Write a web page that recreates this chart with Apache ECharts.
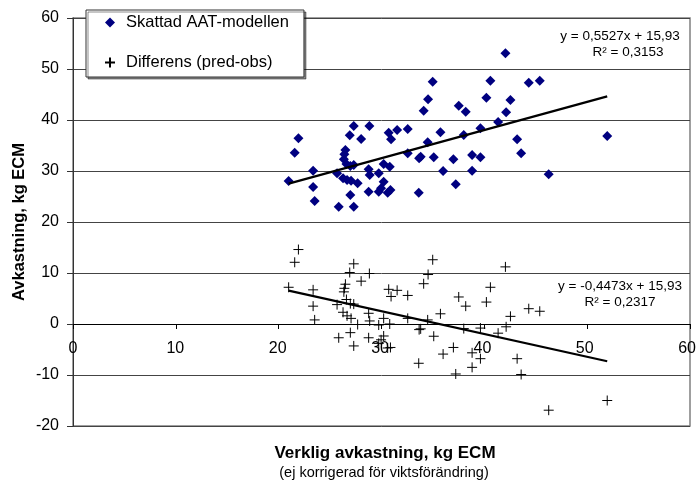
<!DOCTYPE html>
<html>
<head>
<meta charset="utf-8">
<script src="https://cdn.jsdelivr.net/npm/echarts@6/dist/echarts.min.js"></script>
<style>
html,body{margin:0;padding:0;background:#fff;}
#chart{width:699px;height:484px;}
</style>
</head>
<body>
<div id="chart"></div>
<script>
// Observed yield (x) for each animal, kg ECM
const obsX = [20.97,21.92,21.56,23.35,23.35,23.50,25.84,27.30,26.97,26.49,26.39,26.34,26.59,26.97,27.30,25.68,26.26,26.65,27.04,27.68,26.91,27.30,28.02,28.82,28.75,28.85,28.75,29.73,30.21,30.80,30.21,29.96,29.73,30.60,30.87,30.70,30.93,31.52,32.55,32.55,33.62,33.66,33.81,34.10,34.53,34.98,34.49,35.08,35.73,35.99,36.99,37.22,37.51,38.19,38.00,38.81,38.81,39.62,39.62,40.20,40.59,41.34,42.12,42.05,42.54,43.19,43.58,44.32,45.39,46.26,51.95];
// Predicted (AAT model)
const predY = [28.04,36.41,33.59,30.06,26.86,24.12,23.0,23.0,25.29,34.12,33.27,32.29,31.37,30.98,31.18,29.55,28.57,28.24,28.1,27.59,37.0,38.82,36.27,38.82,30.33,29.22,25.94,29.55,31.37,30.84,27.9,26.6,25.94,25.75,26.27,37.51,36.22,38.04,38.24,33.47,25.75,32.49,32.8,41.82,44.06,47.51,35.63,32.69,37.59,30.0,32.29,27.39,42.8,41.63,37.06,33.14,30.06,38.37,32.69,44.37,47.71,39.61,41.51,53.08,43.92,36.22,33.47,47.31,47.71,29.35,36.86];
// Difference (pred-obs)
const diffY = [7.2,14.6,12.1,6.7,3.5,0.8,-2.7,-4.3,-1.7,7.8,7.0,6.3,4.8,4.0,3.9,3.8,2.3,1.6,1.1,-0.1,10.1,11.8,8.4,9.9,2.1,0.6,-2.7,-0.2,1.1,0.0,-2.35,-3.1,-3.8,-4.7,-4.6,6.8,5.4,6.6,5.6,1.1,-7.7,-1.1,-0.95,7.9,9.7,12.6,0.8,-2.4,2.0,-5.9,-4.6,-9.8,5.3,3.5,-0.9,-5.65,-8.5,-0.8,-6.8,4.3,7.2,-1.8,-0.55,11.2,1.5,-6.8,-9.9,3.0,2.5,-16.9,-15.0];

const seriesNames = ['Skattad AAT-modellen', 'Differens (pred-obs)'];
const trendPred = {slope: 0.5527, intercept: 15.93};
const trendDiff = {slope: -0.4473, intercept: 15.93};
const eqPred = ['y = 0,5527x + 15,93', 'R\u00B2 = 0,3153'];
const eqDiff = ['y = -0,4473x + 15,93', 'R\u00B2 = 0,2317'];
const xTicks = {min: 0, max: 60, interval: 10};
const yTicks = {min: -20, max: 60, interval: 10};
const yTitle = 'Avkastning, kg ECM';
const xTitle = 'Verklig avkastning, kg ECM';
const xSubtitle = '(ej korrigerad f\u00F6r viktsf\u00F6r\u00E4ndring)';

const FONT = '"Liberation Sans", Arial, sans-serif';
const xmin = Math.min.apply(null, obsX), xmax = Math.max.apply(null, obsX);
const lineFor = t => [[xmin, t.slope * xmin + t.intercept], [xmax, t.slope * xmax + t.intercept]];

// plot box
const G = {left: 73, right: 9, top: 18, bottom: 58};
const plotH = 484 - G.top - G.bottom;
// height of the part of the plot above y = 0 (for the label row that sits on the zero line)
const zeroFromTop = plotH * (yTicks.max - 0) / (yTicks.max - yTicks.min);

const chart = echarts.init(document.getElementById('chart'), null, {renderer: 'canvas'});
chart.setOption({
  animation: false,
  backgroundColor: '#fff',
  grid: [
    {left: G.left, right: G.right, top: G.top, bottom: G.bottom, show: true, borderColor: '#808080', borderWidth: 1.5, backgroundColor: 'transparent'},
    {left: G.left, right: G.right, top: G.top, height: zeroFromTop, show: false}
  ],
  xAxis: [
    {
      type: 'value', gridIndex: 0, min: xTicks.min, max: xTicks.max, interval: xTicks.interval,
      axisLine: {onZero: true, lineStyle: {color: '#000', width: 1}},
      axisTick: {show: true, length: 5, lineStyle: {color: '#000'}},
      axisLabel: {show: false},
      splitLine: {show: false}
    },
    {
      type: 'value', gridIndex: 1, min: xTicks.min, max: xTicks.max, interval: xTicks.interval,
      axisLine: {show: false, onZero: false},
      axisTick: {show: false},
      axisLabel: {margin: 17, fontSize: 16, color: '#000', fontFamily: FONT},
      splitLine: {show: false}
    }
  ],
  yAxis: [
    {
      type: 'value', gridIndex: 0, min: yTicks.min, max: yTicks.max, interval: yTicks.interval,
      axisLine: {show: true, onZero: false, lineStyle: {color: '#333', width: 1}},
      axisTick: {show: true, length: 6, lineStyle: {color: '#333'}},
      axisLabel: {margin: 14, fontSize: 16, color: '#000', fontFamily: FONT},
      splitLine: {show: true, lineStyle: {color: '#444', width: 1}}
    },
    {
      type: 'value', gridIndex: 1, min: 0, max: yTicks.max, show: false
    }
  ],
  legend: {
    orient: 'vertical', left: 86, top: 10,
    data: seriesNames,
    itemWidth: 10, itemHeight: 10, itemGap: 23,
    padding: [4, 15, 6, 18],
    backgroundColor: '#fff', borderColor: '#333', borderWidth: 1,
    shadowColor: 'rgba(0,0,0,0.45)', shadowOffsetX: 2, shadowOffsetY: 2, shadowBlur: 0,
    textStyle: {fontSize: 16.5, color: '#000', fontFamily: FONT, padding: [0, 0, 0, 6]}
  },
  series: [
    {
      name: seriesNames[0], type: 'scatter', symbol: 'diamond', symbolSize: 10,
      itemStyle: {color: '#000080', opacity: 1},
      data: obsX.map((x, i) => [x, predY[i]]), z: 3
    },
    {
      name: seriesNames[1], type: 'scatter', symbol: 'path://M5,0L5,10M0,5L10,5', symbolSize: 10,
      itemStyle: {color: '#000', borderColor: '#000', borderWidth: 1, opacity: 1},
      data: obsX.map((x, i) => [x, diffY[i]]), z: 3
    },
    {
      type: 'line', data: lineFor(trendPred), symbol: 'none', silent: true,
      lineStyle: {color: '#000', width: 2.2}, z: 4
    },
    {
      type: 'line', data: lineFor(trendDiff), symbol: 'none', silent: true,
      lineStyle: {color: '#000', width: 2.2}, z: 4
    }
  ],
  graphic: [
    {type: 'text', x: 620, y: 36, style: {text: eqPred[0], font: '13.5px ' + FONT, fill: '#000', textAlign: 'center', textVerticalAlign: 'middle'}, z: 10},
    {type: 'text', x: 628, y: 52, style: {text: eqPred[1], font: '13.5px ' + FONT, fill: '#000', textAlign: 'center', textVerticalAlign: 'middle'}, z: 10},
    {type: 'text', x: 620, y: 286, style: {text: eqDiff[0], font: '13.5px ' + FONT, fill: '#000', textAlign: 'center', textVerticalAlign: 'middle'}, z: 10},
    {type: 'text', x: 620, y: 302, style: {text: eqDiff[1], font: '13.5px ' + FONT, fill: '#000', textAlign: 'center', textVerticalAlign: 'middle'}, z: 10},
    {type: 'text', x: 19, y: 222, rotation: Math.PI / 2, style: {text: yTitle, font: 'bold 16.5px ' + FONT, fill: '#000', textAlign: 'center', textVerticalAlign: 'middle'}},
    {type: 'text', x: 385, y: 453, style: {text: xTitle, font: 'bold 17px ' + FONT, fill: '#000', textAlign: 'center', textVerticalAlign: 'middle'}},
    {type: 'text', x: 384, y: 473, style: {text: xSubtitle, font: '14.5px ' + FONT, fill: '#000', textAlign: 'center', textVerticalAlign: 'middle'}}
  ]
});
</script>
</body>
</html>
